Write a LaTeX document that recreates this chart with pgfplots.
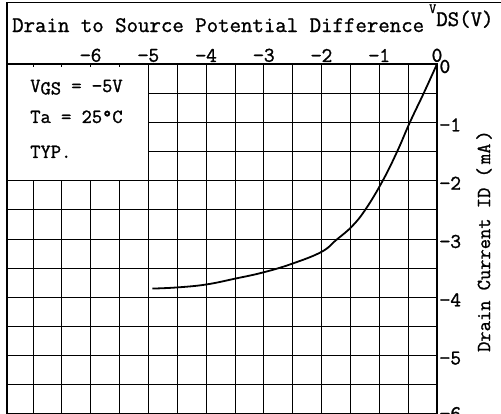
\documentclass[border=0pt]{standalone}
\usepackage{fontspec}
\setmonofont{Latin Modern Mono}[FakeBold=1.2]
\usepackage{pgfplots}
\pgfplotsset{compat=1.18}

\begin{document}
\ttfamily
\begin{tikzpicture}[font=\ttfamily]
\begin{axis}[name=ax, at={(0,0)}, anchor=south west,
  scale only axis, width=430bp, height=350bp,
  xmin=-7.45, xmax=0, ymin=-6, ymax=0,
  xtick={-6,-5,-4,-3,-2,-1,0}, xticklabels={−6,−5,−4,−3,−2,−1,0},
  minor xtick={-7,-6.5,-5.5,-4.5,-3.5,-2.5,-1.5,-0.5},
  ytick={-6,-5,-4,-3,-2,-1,0}, yticklabels={\raisebox{6bp}{−6},−5,−4,−3,−2,−1,0},
  minor ytick={-5.5,-4.5,-3.5,-2.5,-1.5,-0.5},
  xticklabel pos=upper, yticklabel pos=right,
  grid=both,
  major grid style={black, line width=0.9bp},
  minor grid style={black, line width=0.8bp},
  axis line style={line width=1.6bp},
  tick style={draw=none},
  ticklabel style={font=\ttfamily\fontsize{21}{22}\selectfont},
  /pgf/number format/assume math mode=true,
  xticklabel style={yshift=-1.5bp},
  yticklabel style={xshift=-1bp, yshift=-2.5bp},
  clip=false,
]
\addplot[black, line width=1.8bp, smooth, tension=0.7] coordinates {
  (0,0) (-0.23,-0.5) (-0.47,-1.0) (-0.69,-1.5) (-0.94,-2.0) (-1.23,-2.48)
  (-1.47,-2.78) (-1.75,-3.02) (-2.0,-3.22) (-2.5,-3.42) (-3.0,-3.57)
  (-3.5,-3.68) (-4.0,-3.78) (-4.5,-3.83) (-4.93,-3.85)
};
\draw[line width=1.6bp, fill=white] (axis cs:-7.45,0) rectangle (axis cs:-5,-2);
\draw[line width=0.9bp] (axis cs:-7,0) -- ([yshift=-3bp]axis cs:-7,0);
\draw[line width=0.9bp] (axis cs:-6.5,0) -- ([yshift=-3bp]axis cs:-6.5,0);
\draw[line width=0.9bp] (axis cs:-6,0) -- ([yshift=-3bp]axis cs:-6,0);
\draw[line width=0.9bp] (axis cs:-5.5,0) -- ([yshift=-3bp]axis cs:-5.5,0);
\node[anchor=base west, inner sep=0pt, font=\ttfamily\fontsize{20}{21}\selectfont] at (axis cs:-7.05,-0.48) {V\raisebox{-2.5bp}{GS} = −5V};
\node[anchor=base west, inner sep=0pt, font=\ttfamily\fontsize{20}{21}\selectfont] at (axis cs:-7.05,-1.01) {Ta = 25°C};
\node[anchor=base west, inner sep=0pt, font=\ttfamily\fontsize{20}{21}\selectfont] at (axis cs:-7.05,-1.61) {TYP.};
\node[rotate=90, inner sep=0pt, font=\ttfamily\fontsize{20}{21}\selectfont] at ([xshift=47bp]rel axis cs:1,0.494) {Drain Current ID (\hspace{3bp}mA\hspace{3bp})};
\end{axis}
\node[anchor=base west, inner sep=0pt, font=\ttfamily\fontsize{22.3}{23}\selectfont] at ([xshift=5bp, yshift=32bp]ax.north west) {Drain to Source Potential Difference\hspace{5bp}\raisebox{19bp}{\fontsize{14}{14}\selectfont V}\raisebox{6bp}{DS(V)}};
\draw[line width=1.2bp] (ax.north west) -- ++(0,61.5bp) -- ++(520bp,0);
\pgfresetboundingbox
\useasboundingbox ([xshift=-7bp]ax.south west) rectangle ([xshift=494bp, yshift=414bp]ax.south west);
\end{tikzpicture}
\end{document}
